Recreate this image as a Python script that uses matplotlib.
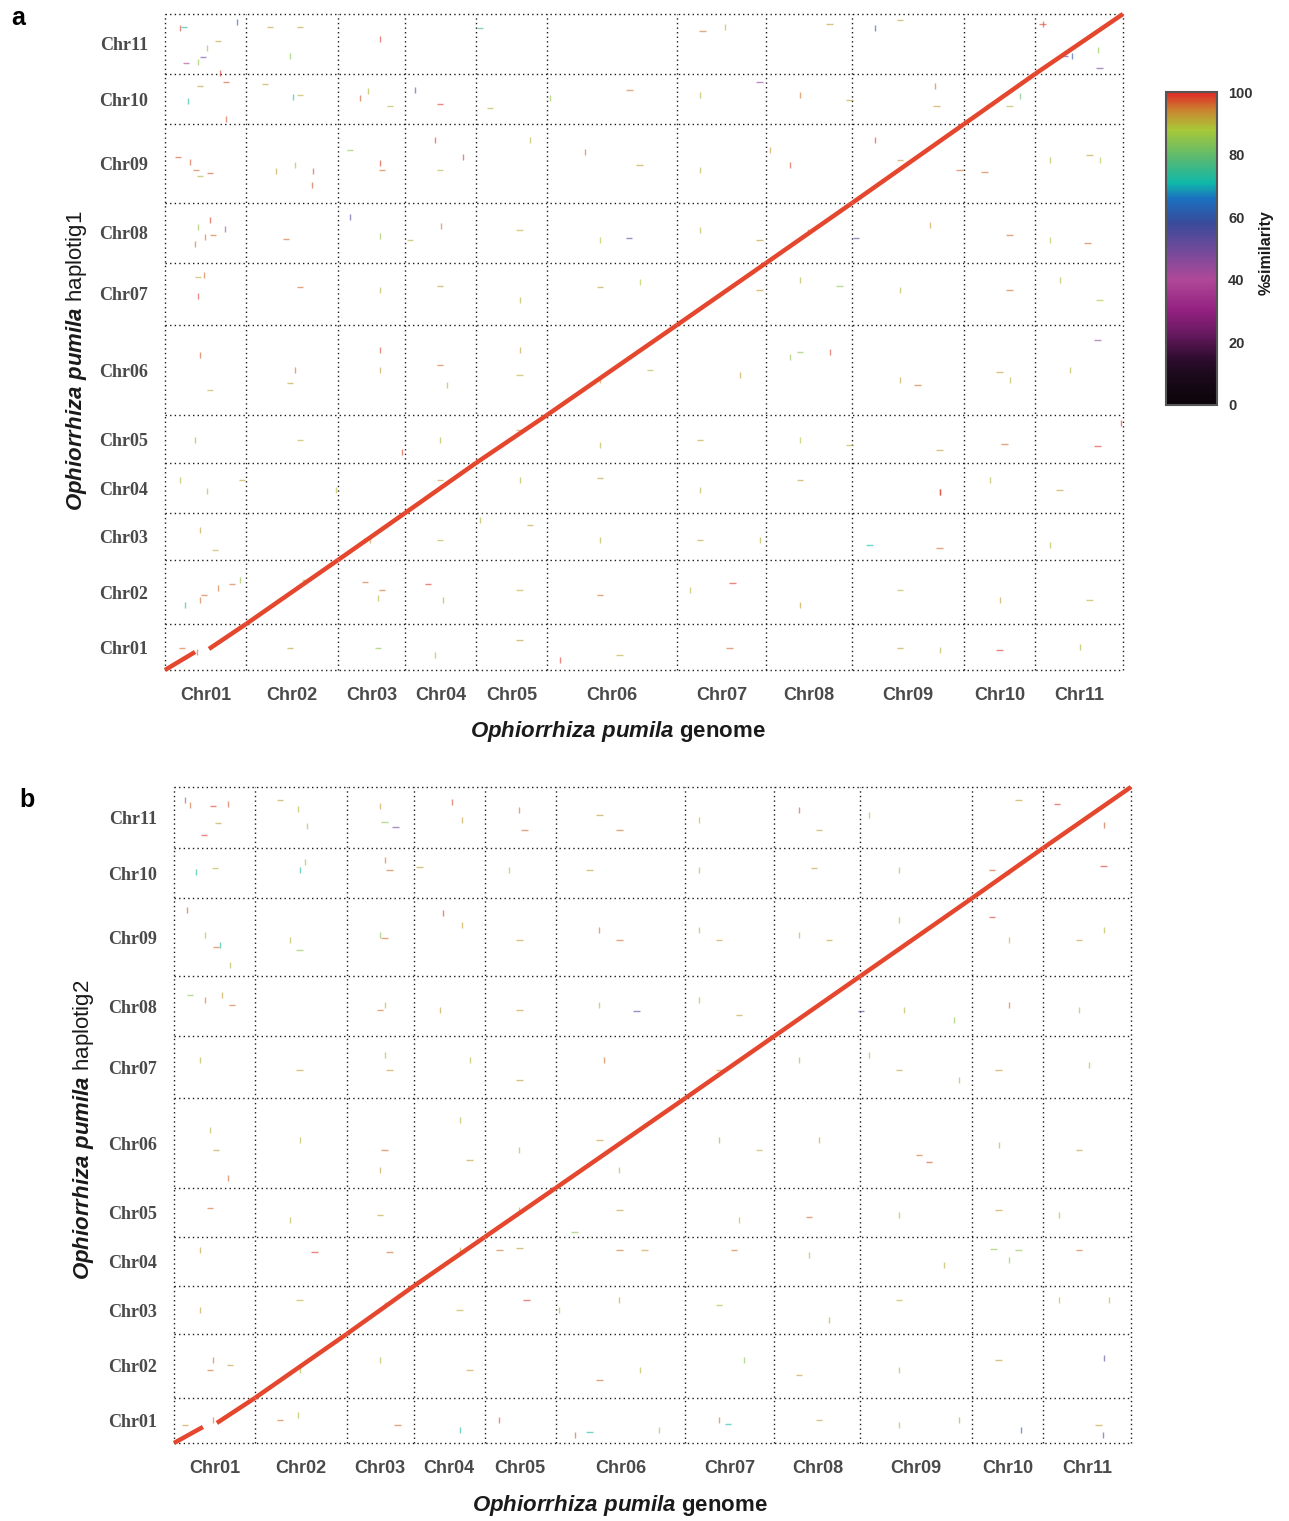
import numpy as np
import matplotlib
matplotlib.use("Agg")
import matplotlib.pyplot as plt
from matplotlib.collections import LineCollection
from matplotlib.colors import LinearSegmentedColormap, Normalize
from matplotlib.cm import ScalarMappable

plt.rcParams["font.family"] = ["Liberation Sans", "DejaVu Sans"]
plt.rcParams["mathtext.fontset"] = "custom"
plt.rcParams["mathtext.it"] = "Liberation Sans:italic:bold"
plt.rcParams["mathtext.rm"] = "Liberation Sans:bold"

# --- chromosome sizes (Mb) -------------------------------------------------
CHROMS = ["Chr01", "Chr02", "Chr03", "Chr04", "Chr05", "Chr06",
          "Chr07", "Chr08", "Chr09", "Chr10", "Chr11"]
GENOME_MB = [37.2, 42.2, 30.8, 32.6, 32.6, 59.7, 40.9, 39.5, 51.4, 32.6, 40.4]
HAP1_MB = [30.1, 41.9, 30.8, 32.8, 31.4, 59.0, 40.6, 39.3, 51.7, 32.8, 39.3]
HAP2_MB = [29.5, 41.9, 31.4, 32.1, 32.1, 59.0, 40.6, 39.3, 51.1, 32.8, 40.0]

# Chr01 has an unaligned stretch: (genome end, hap end) of first block,
# (genome start, hap start) of second block
HAP1_GAP = [(13.8, 11.8), (20.2, 13.8)]
HAP2_GAP = [(13.3, 10.5), (19.7, 13.1)]

# --- off-diagonal hits: genome pos, haplotig pos, direction, %similarity ----
A_X = [6.9, 8.7, 19.3, 15.1, 17.4, 9.6, 24.3, 33.0, 48.2, 62.0, 57.4, 98.7, 144.6, 246.9,
       257.0, 305.2, 325.9, 337.4, 403.0, 403.0, 413.1, 416.3, 429.2, 428.2,
       25.2, 28.0, 16.1, 10.6, 28.0, 45.9, 58.8, 62.0, 89.5, 93.2, 103.3, 126.2, 114.8,
       149.2, 176.7, 213.4, 245.6, 273.1, 291.5, 314.4, 353.4, 354.3, 378.7, 387.9, 392.4,
       6.0, 11.5, 14.2, 20.7, 16.1, 59.7, 50.9, 67.9, 67.5, 84.9, 98.7, 99.6, 123.9, 136.8,
       126.2, 167.5, 192.8, 218.0, 245.6, 277.7, 286.9, 325.9, 337.4, 364.9, 376.4, 406.2,
       424.6, 429.2,
       20.7, 18.4, 15.1, 22.0, 27.5, 13.8, 55.5, 84.9, 98.7, 112.5, 126.7, 162.9, 199.7,
       213.0, 245.6, 273.1, 295.1, 317.2, 351.1, 387.9, 406.2, 423.7,
       15.1, 17.9, 15.1, 62.0, 98.7, 126.2, 162.9, 199.7, 218.0, 253.4, 273.1, 291.5, 309.8,
       337.4, 387.9, 410.8, 429.2,
       16.1, 20.7, 59.7, 57.4, 98.7, 98.7, 126.2, 129.4, 162.9, 162.9, 199.7, 222.6, 263.9,
       286.9, 291.5, 305.2, 337.4, 345.6, 383.3, 387.9, 428.2, 415.4,
       13.8, 62.0, 108.8, 126.2, 162.9, 199.7, 245.6, 291.5, 314.4, 355.7, 385.6, 428.2, 438.8,
       6.9, 19.3, 35.3, 78.5, 126.2, 162.9, 199.7, 245.6, 291.5, 355.7, 355.7, 378.7, 410.8,
       16.1, 23.0, 94.1, 126.2, 144.6, 167.5, 199.7, 245.6, 273.1, 323.6, 355.7, 406.2,
       17.9, 24.3, 30.8, 16.1, 9.2, 34.4, 64.3, 91.8, 99.6, 97.8, 120.7, 127.6, 162.9, 199.7,
       241.0, 260.7, 291.5, 337.4, 383.3, 424.6,
       7.8, 14.7, 57.4, 97.8, 123.9, 162.9, 181.3, 208.8, 259.3, 337.4, 355.7, 383.3, 420.0]
A_Y = [420.5, 421.2, 407.4, 398.2, 401.5, 397.6, 412.0, 424.4, 421.2, 421.2, 402.2, 413.3, 420.5,
       418.5, 421.2, 423.1, 420.5, 425.8, 423.1, 423.1, 402.2, 402.2, 394.3, 406.1,
       391.0, 385.1, 382.5, 372.7, 360.9, 383.8, 375.3, 376.6, 374.7, 379.2, 369.4, 370.7, 379.9,
       368.1, 374.7, 379.9, 376.6, 385.1, 376.6, 373.4, 382.5, 369.4, 370.1, 369.4, 376.0,
       336.0, 332.7, 327.5, 325.5, 323.6, 330.8, 326.8, 326.8, 317.7, 340.6, 332.1, 327.5, 347.2,
       336.0, 327.5, 347.2, 339.3, 330.8, 327.5, 340.6, 330.8, 347.2, 334.1, 327.5, 326.2, 334.1,
       337.3, 334.1,
       294.8, 283.6, 290.2, 284.9, 288.9, 279.0, 282.3, 296.7, 284.3, 281.7, 290.8, 288.2, 281.7,
       283.0, 288.2, 281.7, 286.9, 283.0, 291.5, 284.9, 281.7, 279.7,
       257.4, 258.7, 245.0, 250.9, 248.9, 251.5, 242.4, 250.9, 254.1, 244.3, 248.9, 255.5, 251.5,
       248.9, 248.9, 255.5, 242.4,
       206.3, 183.4, 196.5, 188.0, 209.6, 196.5, 199.8, 186.7, 209.6, 193.2, 190.0, 196.5, 193.2,
       205.0, 208.3, 208.3, 190.0, 186.7, 195.2, 190.0, 216.2, 196.5,
       150.7, 150.7, 142.8, 150.7, 157.2, 147.4, 150.7, 150.7, 147.4, 144.1, 148.0, 146.7, 161.8,
       124.5, 117.2, 124.5, 117.9, 124.5, 124.5, 125.8, 117.9, 124.5, 116.6, 116.6, 124.5, 117.9,
       91.7, 78.6, 85.2, 85.2, 98.3, 95.0, 85.2, 85.2, 85.2, 81.9, 79.9, 81.9,
       49.1, 53.7, 56.3, 45.9, 42.6, 59.0, 59.0, 57.6, 52.4, 47.2, 56.3, 45.9, 52.4, 49.1,
       52.4, 57.0, 42.6, 52.4, 45.9, 45.9,
       14.4, 11.8, 14.4, 14.4, 9.8, 19.7, 6.6, 9.8, 14.4, 14.4, 13.1, 13.1, 15.1]
A_DIR = ("vhvvhhhvhhvvhhvhvhvhhvhv"
         "vhhvvhvhvvhhvhvhvhvhvhhhv"
         "hvhhhvvvvhvhvvhvvhvvvvhhhvhv"
         "vvvhvvhvvhvhvhvhvhvhvh"
         "hvvhvhvhvhhvhvhvh"
         "vhvhvvhvvhvhvvhvvhhvhv"
         "vhvvhvhvhhhhv"
         "vvhvhvhvhvvvh"
         "vhvhvhvhvhhv"
         "hvhvvvhhhvhvhhvhvhvh"
         "hvhhvhvhhhvhv")
A_SIM = [98, 72, 90, 85, 50, 38, 92, 60, 92, 92, 85, 99, 75, 95, 90, 92, 60, 92, 98, 98, 55, 60, 50, 85,
         99, 97, 92, 72, 97, 92, 72, 90, 97, 90, 90, 99, 60, 90, 85, 95, 90, 45, 95, 92, 96, 92, 96, 90, 80,
         97, 97, 96, 97, 90, 90, 92, 98, 97, 85, 99, 96, 99, 99, 90, 90, 96, 92, 90, 92, 98, 99, 92, 96, 96,
         90, 92, 88,
         99, 96, 85, 96, 45, 96, 96, 55, 85, 90, 95, 90, 88, 56, 90, 92, 95, 56, 92, 96, 88, 96,
         90, 96, 98, 96, 90, 92, 90, 92, 88, 85, 92, 90, 85, 90, 96, 90, 88,
         97, 90, 96, 92, 98, 92, 96, 90, 92, 90, 92, 90, 92, 85, 85, 98, 92, 96, 92, 90, 45, 90,
         92, 90, 99, 90, 92, 90, 92, 88, 90, 92, 96, 99, 99,
         90, 85, 92, 90, 92, 90, 92, 90, 92, 99, 99, 90, 92,
         92, 90, 92, 90, 90, 92, 90, 92, 90, 72, 96, 90,
         96, 96, 96, 96, 72, 85, 90, 96, 96, 90, 99, 92, 90, 96, 90, 99, 92, 90, 92, 90,
         96, 96, 92, 85, 90, 92, 99, 90, 96, 92, 90, 99, 90]

B_X = [5.0, 7.3, 17.9, 13.8, 20.2, 24.8, 48.7, 56.9, 61.0, 94.6, 96.8, 101.9, 127.6, 132.2, 158.8,
       161.1, 195.5, 204.7, 241.4, 287.3, 296.5, 319.5, 388.3, 405.8, 427.3,
       10.1, 18.8, 57.8, 60.1, 96.8, 99.1, 112.9, 154.2, 190.9, 241.4, 294.2, 333.2, 375.9, 383.7,
       427.3,
       6.0, 14.2, 19.3, 21.1, 25.7, 53.2, 57.8, 94.6, 96.8, 123.5, 132.2, 158.8, 195.5, 204.7,
       241.4, 250.6, 287.3, 301.1, 333.2, 375.9, 383.7, 415.9, 427.3,
       7.3, 14.2, 22.0, 26.6, 94.6, 96.8, 122.1, 158.8, 195.5, 212.5, 241.4, 259.8, 315.8, 335.5,
       358.5, 383.7, 415.9,
       11.9, 57.8, 96.8, 99.1, 135.9, 158.8, 197.8, 250.6, 287.3, 319.5, 333.2, 360.8, 379.1, 420.4,
       16.5, 19.3, 24.8, 57.8, 96.8, 94.6, 131.3, 135.9, 158.8, 195.5, 204.7, 250.6, 269.0, 296.5,
       342.4, 347.0, 379.1, 415.9,
       16.5, 53.2, 94.6, 158.8, 184.1, 204.7, 259.8, 291.9, 333.2, 379.1, 406.7,
       11.9, 64.7, 99.1, 131.3, 149.6, 158.8, 204.7, 216.2, 257.5, 291.9, 353.9, 376.8, 383.7,
       388.3, 415.9,
       11.9, 57.8, 96.8, 131.3, 162.0, 177.2, 204.7, 250.6, 301.1, 333.2, 406.7, 429.6,
       17.9, 16.5, 25.7, 57.8, 94.6, 135.9, 195.5, 214.0, 262.1, 287.3, 333.2, 379.1, 427.3,
       5.0, 17.9, 48.7, 56.9, 102.8, 131.3, 149.6, 184.1, 190.9, 223.1, 250.6, 254.7, 296.5, 333.2,
       360.8, 389.2, 425.0, 426.8]
B_Y = [421.2, 417.9, 417.2, 398.2, 406.1, 418.5, 421.2, 415.3, 404.1, 417.2, 406.8, 403.5, 419.9,
       408.1, 414.6, 401.5, 411.3, 401.5, 408.1, 414.6, 401.5, 411.3, 421.2, 418.5, 404.8,
       374.0, 376.6, 375.3, 380.6, 381.9, 375.3, 377.3, 375.3, 375.3, 375.3, 376.6, 375.3, 375.3,
       374.0, 377.9,
       349.1, 332.7, 324.9, 326.2, 313.1, 329.5, 322.9, 332.7, 330.8, 347.2, 339.3, 329.5, 336.0,
       329.5, 336.0, 329.5, 332.7, 329.5, 342.6, 344.5, 329.5, 329.5, 336.0,
       293.4, 290.2, 293.4, 286.9, 283.6, 286.9, 283.6, 283.6, 286.9, 283.0, 290.2, 280.3, 283.0,
       283.6, 277.1, 286.9, 283.6,
       250.9, 244.3, 254.1, 244.3, 250.9, 237.8, 250.9, 244.3, 250.9, 254.1, 244.3, 237.8, 244.3,
       247.6,
       205.0, 191.9, 173.6, 198.5, 191.9, 178.8, 211.6, 185.4, 191.9, 198.5, 178.8, 198.5, 191.9,
       198.5, 188.6, 184.1, 195.2, 191.9,
       153.9, 146.1, 149.3, 152.6, 138.2, 152.6, 146.1, 148.0, 149.3, 152.6, 149.3,
       126.4, 125.1, 125.1, 126.4, 126.4, 127.7, 126.4, 126.4, 126.4, 123.1, 116.6, 127.1, 119.9,
       126.4, 126.4,
       87.1, 93.7, 90.4, 87.1, 93.7, 87.1, 93.7, 90.4, 80.6, 93.7, 93.7, 93.7,
       54.4, 47.8, 51.1, 47.8, 54.4, 47.8, 41.3, 47.8, 54.4, 44.5, 47.8, 54.4, 55.7,
       11.8, 15.1, 15.1, 18.3, 11.8, 8.5, 15.1, 5.2, 7.2, 8.5, 15.1, 12.4, 15.1, 11.8,
       15.1, 8.5, 11.8, 5.2]
B_DIR = ("vvhhhvhvvvhhvvvhhhvvhvhhv"
         "vhvvvhhvhvhvhvh"
         "vvhvvvhvhvvhvhvhvhvhvhv"
         "hvvhhvvhvhvhhvvvv"
         "vhvhvhvhvvhvhv"
         "vhvvhvvhvhvvhvhhvh"
         "hvhvhhvhvhv"
         "vhhvhhhhhvvhvhh"
         "vhvhhvvhvhvv"
         "vhhvvhhvvhvhv"
         "hvhvhvvvhvvhhvvvhv")
B_SIM = [45, 96, 99, 99, 92, 97, 92, 90, 85, 92, 85, 50, 98, 92, 96, 96, 92, 96, 90, 98, 92, 90, 92, 99, 97,
         72, 90, 72, 90, 96, 96, 92, 90, 92, 90, 92, 90, 97, 85, 99,
         97, 90, 96, 72, 90, 90, 85, 85, 96, 99, 92, 92, 96, 96, 90, 92, 90, 92, 90, 99, 90, 92, 90,
         85, 96, 92, 96, 96, 90, 92, 92, 90, 56, 90, 92, 56, 90, 85, 96, 85,
         90, 92, 90, 92, 90, 92, 96, 92, 90, 85, 92, 90, 92, 90,
         90, 92, 96, 90, 96, 92, 90, 92, 90, 92, 90, 92, 90, 92, 96, 98, 90, 92,
         96, 90, 92, 90, 85, 92, 90, 96, 90, 92, 90,
         92, 99, 96, 90, 96, 92, 96, 92, 96, 90, 90, 85, 85, 85, 96,
         92, 90, 92, 90, 99, 90, 92, 90, 92, 90, 90, 90,
         96, 96, 92, 90, 90, 92, 96, 90, 85, 92, 90, 92, 55,
         92, 96, 96, 90, 96, 72, 98, 97, 72, 85, 96, 72, 92, 90, 92, 60, 92, 55]

CBAR_TICKS = [0, 20, 40, 60, 80, 100]

# similarity colour scale, black -> purple -> blue -> green -> red
SIM_CMAP = LinearSegmentedColormap.from_list("similarity", [
    (0.00, "#0a0508"), (0.10, "#1c0a1c"), (0.15, "#300c30"), (0.23, "#6a1a62"),
    (0.30, "#922080"), (0.40, "#b04898"), (0.48, "#7c4a9a"), (0.58, "#3a4a9a"),
    (0.66, "#1a70c0"), (0.71, "#10b8a8"), (0.78, "#50b878"), (0.88, "#a8c838"),
    (0.94, "#c88830"), (1.00, "#e02828")])

DIAG_COLOR = "#e5472e"
GRID_COLOR = "#1a1a1a"
TICK_COLOR = "#4a4a4a"


def draw_dotplot(ax, xs, ys, gap, hx, hy, hdir, hsim):
    xs, ys = np.asarray(xs), np.asarray(ys)
    xe = np.concatenate([[0], np.cumsum(xs)])
    ye = np.concatenate([[0], np.cumsum(ys)])
    ax.set_xlim(0, xe[-1])
    ax.set_ylim(0, ye[-1])
    for s in ax.spines.values():
        s.set_visible(False)

    # chromosome boundaries, dotted
    for x in xe:
        ax.plot([x, x], [0, ye[-1]], color=GRID_COLOR, lw=1.0, ls=(0, (1, 2.3)),
                clip_on=False, zorder=1)
    for y in ye:
        ax.plot([0, xe[-1]], [y, y], color=GRID_COLOR, lw=1.0, ls=(0, (1, 2.3)),
                clip_on=False, zorder=1)

    # off-diagonal hits as short dashes
    segs = []
    for x, y, d in zip(hx, hy, hdir):
        if d == "h":
            segs.append([(x - 1.5, y), (x + 1.5, y)])
        else:
            segs.append([(x, y - 2.0), (x, y + 2.0)])
    cols = SIM_CMAP(np.asarray(hsim[:len(segs)]) / 100.0)
    cols[:, 3] = 0.6
    ax.add_collection(LineCollection(segs, colors=cols, linewidths=1.0, zorder=2))

    # self alignment, one block per chromosome (Chr01 split by its gap)
    blocks = [((0, 0), gap[0]), (gap[1], (xe[1], ye[1]))]
    for i in range(1, len(xs)):
        blocks.append(((xe[i], ye[i]), (xe[i + 1], ye[i + 1])))
    for (x0, y0), (x1, y1) in blocks:
        ax.plot([x0, x1], [y0, y1], color=DIAG_COLOR, lw=3.2,
                solid_capstyle="butt", zorder=3, clip_on=False)

    ax.set_xticks((xe[:-1] + xe[1:]) / 2)
    ax.set_xticklabels(CHROMS, fontsize=13, fontweight="bold", color=TICK_COLOR)
    ax.set_yticks((ye[:-1] + ye[1:]) / 2)
    ax.set_yticklabels(CHROMS, fontsize=13, fontweight="bold", color=TICK_COLOR,
                       family=["Liberation Serif", "DejaVu Serif"])
    ax.tick_params(axis="x", length=0, pad=12)
    ax.tick_params(axis="y", length=0, pad=12)


W, H = 1289, 1521
fig = plt.figure(figsize=(W / 100, H / 100), dpi=100)

ax_a = fig.add_axes([165 / W, 1 - 670 / H, 958 / W, 656 / H])
draw_dotplot(ax_a, GENOME_MB, HAP1_MB, HAP1_GAP, A_X, A_Y, A_DIR, A_SIM)
ax_b = fig.add_axes([174 / W, 1 - 1443 / H, 957 / W, 656 / H])
draw_dotplot(ax_b, GENOME_MB, HAP2_MB, HAP2_GAP, B_X, B_Y, B_DIR, B_SIM)

xtitle = r"$\mathit{Ophiorrhiza\ pumila}$ genome"
fig.text(618 / W, 1 - 731 / H, xtitle, ha="center", va="center",
         fontsize=16, fontweight="bold", color="#1a1a1a")
fig.text(620 / W, 1 - 1506 / H, xtitle, ha="center", va="center",
         fontsize=16, fontweight="bold", color="#1a1a1a")
fig.text(77 / W, 1 - 361 / H, r"$\mathit{Ophiorrhiza\ pumila}$ haplotig1",
         rotation=90, ha="center", va="center", fontsize=16, color="#1a1a1a")
fig.text(84 / W, 1 - 1130 / H, r"$\mathit{Ophiorrhiza\ pumila}$ haplotig2",
         rotation=90, ha="center", va="center", fontsize=16, color="#1a1a1a")

fig.text(18 / W, 1 - 18 / H, "a", ha="center", va="center", fontsize=18, fontweight="bold")
fig.text(27 / W, 1 - 800 / H, "b", ha="center", va="center", fontsize=18, fontweight="bold")

# colour key
cax = fig.add_axes([1166 / W, 1 - 405 / H, 51 / W, 313 / H])
cb = fig.colorbar(ScalarMappable(norm=Normalize(0, 100), cmap=SIM_CMAP), cax=cax)
cb.set_ticks(CBAR_TICKS)
cb.ax.tick_params(length=0, pad=8, labelsize=10.5)
for t in cb.ax.get_yticklabels():
    t.set_fontweight("bold")
    t.set_color("#333333")
cb.outline.set_edgecolor("#555555")
cb.outline.set_linewidth(1.5)
fig.text(1266 / W, 1 - 253 / H, "%similarity", rotation=90, ha="center", va="center",
         fontsize=11.5, fontweight="bold", color="#1a1a1a")

fig.savefig("out.png", dpi=100)
